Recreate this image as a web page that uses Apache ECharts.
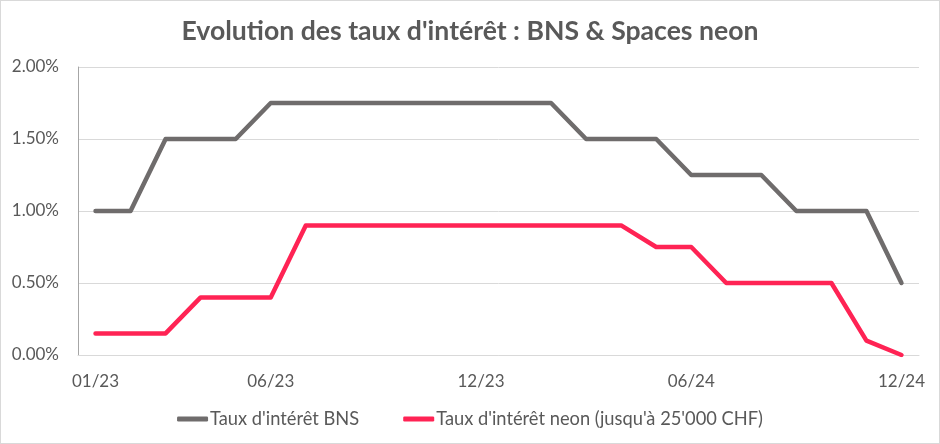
<!DOCTYPE html>
<html>
<head>
<meta charset="utf-8">
<script src="https://cdn.jsdelivr.net/npm/echarts@6/dist/echarts.min.js"></script>
<style>
html,body{margin:0;padding:0;background:#fff;}
#wrap{position:absolute;left:0;top:0;width:938px;height:442px;border:1px solid #d9d9d9;}
#chart{width:938px;height:442px;}
</style>
</head>
<body>
<div id="wrap"><div id="chart"></div></div>
<script>
const categories = ["01/23","02/23","03/23","04/23","05/23","06/23","07/23","08/23","09/23","10/23","11/23","12/23",
                    "01/24","02/24","03/24","04/24","05/24","06/24","07/24","08/24","09/24","10/24","11/24","12/24"];
const bnsRates  = [1.00,1.00,1.50,1.50,1.50,1.75,1.75,1.75,1.75,1.75,1.75,1.75,1.75,1.75,1.50,1.50,1.50,1.25,1.25,1.25,1.00,1.00,1.00,0.50];
const neonRates = [0.15,0.15,0.15,0.40,0.40,0.40,0.90,0.90,0.90,0.90,0.90,0.90,0.90,0.90,0.90,0.90,0.75,0.75,0.50,0.50,0.50,0.50,0.10,0.00];
const shownLabels = ["01/23","06/23","12/23","06/24","12/24"];
const yTicks = [0, 0.5, 1.0, 1.5, 2.0];

const FONT = 'Lato';
const chart = echarts.init(document.getElementById('chart'));
chart.setOption({
  animation: false,
  title: {
    text: "Evolution des taux d'intérêt : BNS & Spaces neon",
    left: 'center', top: 12,
    textStyle: {fontFamily: FONT, fontSize: 26.6, fontWeight: 'bold', color: '#595959'}
  },
  legend: {
    bottom: 10, left: 'center',
    icon: 'roundRect', itemWidth: 31, itemHeight: 5, itemGap: 44,
    textStyle: {fontFamily: FONT, fontSize: 18.3, color: '#595959', padding: [0,0,0,-3]},
    data: ["Taux d'intérêt BNS", "Taux d'intérêt neon (jusqu'à 25'000 CHF)"]
  },
  grid: {left: 77, right: 20, top: 66, bottom: 88},
  xAxis: {
    type: 'category', data: categories, boundaryGap: true,
    axisLine: {show: true, lineStyle: {color: '#d9d9d9', width: 1}},
    axisTick: {show: false},
    axisLabel: {
      interval: (i, v) => shownLabels.includes(v),
      fontFamily: FONT, fontSize: 17, color: '#595959', margin: 18
    }
  },
  yAxis: {
    type: 'value', min: yTicks[0], max: yTicks[yTicks.length-1], interval: 0.5,
    axisLine: {show: true, lineStyle: {color: '#a6a6a6', width: 1}},
    axisTick: {show: false},
    splitLine: {lineStyle: {color: '#d9d9d9', width: 1}},
    axisLabel: {
      formatter: v => v.toFixed(2) + '%',
      fontFamily: FONT, fontSize: 17, color: '#595959', margin: 19
    }
  },
  series: [
    {
      name: "Taux d'intérêt BNS", type: 'line', data: bnsRates, symbol: 'none',
      itemStyle: {color: '#6f6c6c'},
      lineStyle: {color: '#6f6c6c', width: 4.5, cap: 'round', join: 'round'}
    },
    {
      name: "Taux d'intérêt neon (jusqu'à 25'000 CHF)", type: 'line', data: neonRates, symbol: 'none',
      itemStyle: {color: '#ff2354'},
      lineStyle: {color: '#ff2354', width: 4.5, cap: 'round', join: 'round'}
    }
  ]
});
</script>
</body>
</html>
